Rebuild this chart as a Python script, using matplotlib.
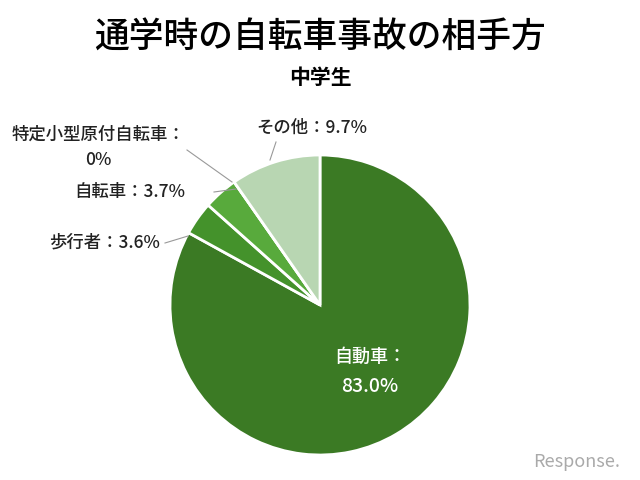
import matplotlib
matplotlib.use("Agg")
import matplotlib.pyplot as plt

plt.rcParams['font.family'] = ['Noto Sans CJK JP', 'DejaVu Sans']

labels = ["自動車", "歩行者", "自転車", "特定小型原付自転車", "その他"]
values = [83.0, 3.6, 3.7, 0.0, 9.7]
colors = ["#3b7a24", "#44922b", "#58aa3c", "#6fbf55", "#b8d6b2"]

fig = plt.figure(figsize=(6.4, 4.8), dpi=100)
ax = fig.add_axes([0, 0, 1, 1])
R = 150.0

def p(x, y):
    return ((x - 320) / R, (305 - y) / R)

ax.pie(values, colors=colors, startangle=90, counterclock=False, radius=1,
       wedgeprops=dict(edgecolor='white', linewidth=2))
ax.set_aspect('auto')
ax.set_xlim(-320 / R, 320 / R)
ax.set_ylim(-175 / R, 305 / R)
ax.axis('off')

fig.text(0.5, 1 - 38 / 480, "通学時の自転車事故の相手方", ha='center', va='center', fontsize=25, fontweight='medium')
fig.text(0.5, 1 - 78 / 480, "中学生", ha='center', va='center', fontsize=15, fontweight='bold')

ax.text(*p(370, 357), f"{labels[0]}：", color='white', ha='center', va='center', fontsize=13, fontweight='medium')
ax.text(*p(370, 386), f"{values[0]:.1f}%", color='white', ha='center', va='center', fontsize=14, fontweight='medium')

tc = '#222222'
fs = 12.5
kw = dict(ha='center', va='center', fontsize=fs, color=tc, fontweight='medium')
ax.text(*p(98, 135), f"{labels[3]}：", **kw)
ax.text(*p(98, 160), f"{values[3]:.0f}%", **kw)
ax.text(*p(130, 192), f"{labels[2]}：{values[2]}%", **kw)
ax.text(*p(105, 243), f"{labels[1]}：{values[1]}%", **kw)
ax.text(*p(312, 128), f"{labels[4]}：{values[4]}%", **kw)

lc = '#999999'
for (a, b) in [((187, 150), (232, 182)), ((214, 192), (236, 189)),
               ((165, 243), (188, 236)), ((276, 142), (270, 160))]:
    x0, y0 = p(*a); x1, y1 = p(*b)
    ax.plot([x0, x1], [y0, y1], color=lc, lw=0.8)

fig.text(1 - 20 / 640, 1 - 462 / 480, "Response.", ha='right', va='center',
         fontsize=13, color='#aaaaaa', style='italic')

fig.savefig("out.png", dpi=100, facecolor='white')
